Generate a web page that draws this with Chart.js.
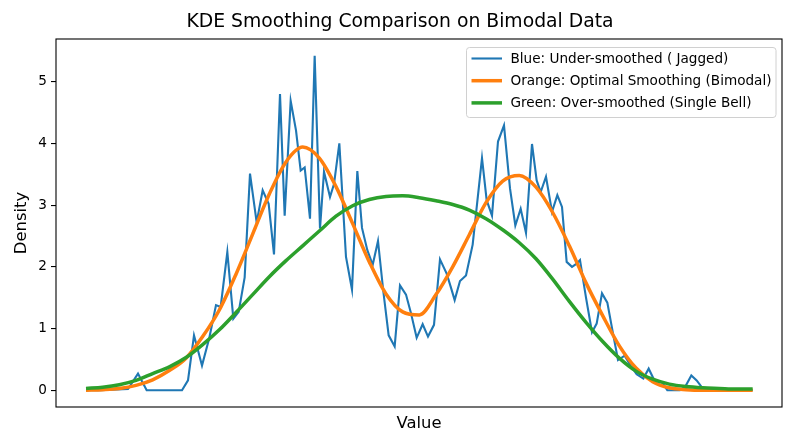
<!DOCTYPE html>
<html>
<head>
<meta charset="utf-8">
<script src="https://cdn.jsdelivr.net/npm/chart.js@4/dist/chart.umd.min.js"></script>
<style>
html,body{margin:0;padding:0;background:#ffffff;}
#wrap{width:800px;height:447px;position:relative;}
</style>
</head>
<body>
<div id="wrap"><canvas id="c" width="800" height="447"></canvas></div>
<script>
// ---- text ----
const chartTitle = 'KDE Smoothing Comparison on Bimodal Data';
const xLabel = 'Value';
const yLabel = 'Density';
const seriesNames = [
  'Blue: Under-smoothed ( Jagged)',
  'Orange: Optimal Smoothing (Bimodal)',
  'Green: Over-smoothed (Single Bell)'
];
const yTicks = [0, 1, 2, 3, 4, 5];

// ---- blue (jagged) series: value positions and densities ----
const blueX = [0, 2.1, 6.3, 7.8, 9.1, 14.4, 15.3, 16.2, 17.4, 18.5, 19.5, 20.2, 21.2, 22.1, 22.9, 23.8,
  24.6, 25.6, 26.5, 27.4, 28.2, 29.1, 29.8, 30.7, 31.5, 32.2, 32.8, 33.6, 34.3, 35.1, 35.7, 36.6,
  37.2, 38.0, 39.0, 39.9, 40.7, 41.4, 42.2, 43.0, 43.8, 44.6, 45.4, 46.3, 47.1, 48.0, 48.7, 49.6,
  50.5, 51.3, 52.2, 53.1, 54.1, 54.7, 55.3, 56.1, 57.0, 58.0, 59.4, 60.1, 60.9, 61.8, 62.7, 63.6,
  64.4, 65.2, 66.0, 66.9, 67.6, 68.2, 69.0, 69.9, 70.7, 71.4, 72.1, 72.9, 73.6, 74.1, 75.0, 75.9,
  76.6, 77.4, 78.2, 79.0, 79.8, 80.8, 81.7, 82.6, 83.6, 84.4, 85.3, 86.4, 87.2, 89.1, 89.9, 90.8,
  91.6, 92.5, 93.6, 100];
const blueY = [0.00, 0.00, 0.02, 0.27, 0.00, 0.00, 0.16, 0.89, 0.40, 0.85, 1.38, 1.35, 2.24, 1.16, 1.27, 1.83,
  3.51, 2.72, 3.24, 3.02, 2.20, 4.80, 2.83, 4.69, 4.21, 3.56, 3.61, 2.78, 5.42, 2.62, 3.54, 3.13,
  3.34, 4.00, 2.16, 1.63, 3.55, 2.63, 2.27, 2.03, 2.42, 1.60, 0.89, 0.71, 1.70, 1.55, 1.27, 0.85,
  1.07, 0.87, 1.06, 2.12, 1.89, 1.68, 1.46, 1.77, 1.86, 2.36, 3.76, 3.08, 2.83, 4.03, 4.29, 3.27,
  2.67, 2.94, 2.55, 3.99, 3.40, 3.21, 3.46, 2.89, 3.16, 2.97, 2.08, 2.00, 2.05, 2.11, 1.50, 0.94,
  1.08, 1.57, 1.42, 0.95, 0.49, 0.56, 0.40, 0.26, 0.19, 0.35, 0.15, 0.13, 0.00, 0.00, 0.06, 0.24,
  0.16, 0.03, 0.00, 0.00];

// ---- smooth series (orange, green) read at regular value positions ----
const smoothX = [0, 2.5, 5, 7.5, 10, 12.5, 15, 17.5, 20, 22.5, 25, 27.5, 30, 32.5, 35, 37.5, 40,
  42.5, 45, 47.5, 50, 52.5, 55, 57.5, 60, 62.5, 65, 67.5, 70, 72.5, 75, 77.5, 80, 82.5, 85,
  87.5, 90, 92.5, 95, 97.5, 100];
const orangeY = [0.00, 0.01, 0.03, 0.08, 0.17, 0.32, 0.52, 0.87, 1.30, 1.88, 2.53, 3.18, 3.70, 3.94,
  3.76, 3.30, 2.70, 2.08, 1.56, 1.27, 1.22, 1.55, 2.00, 2.52, 3.04, 3.39, 3.48, 3.29, 2.88,
  2.34, 1.74, 1.21, 0.72, 0.36, 0.14, 0.04, 0.01, 0.00, 0.00, 0.00, 0.00];
const greenY = [0.03, 0.05, 0.09, 0.16, 0.27, 0.38, 0.53, 0.74, 0.98, 1.26, 1.55, 1.84, 2.10, 2.34,
  2.58, 2.82, 2.99, 3.09, 3.14, 3.15, 3.12, 3.07, 3.01, 2.92, 2.78, 2.60, 2.39, 2.13, 1.80,
  1.44, 1.10, 0.79, 0.52, 0.31, 0.18, 0.10, 0.06, 0.04, 0.03, 0.02, 0.02];

const colors = ['#1f77b4', '#ff7f0e', '#2ca02c'];
const widths = [2.1, 3.5, 3.5];

const toPts = (xs, ys) => xs.map((x, i) => ({x: x, y: ys[i]}));

const FONT = '"DejaVu Sans", "Liberation Sans", sans-serif';

const deco = {
  id: 'deco',
  afterDraw(chart) {
    const ctx = chart.ctx;
    const a = chart.chartArea;
    ctx.save();
    // axes frame
    ctx.strokeStyle = '#000000';
    ctx.lineWidth = 1.1;
    ctx.strokeRect(a.left, a.top, a.right - a.left, a.bottom - a.top);

    // title
    ctx.fillStyle = '#000000';
    ctx.textAlign = 'center';
    ctx.textBaseline = 'middle';
    ctx.font = '18.8px ' + FONT;
    ctx.fillText(chartTitle, 400, 22);

    // axis labels
    ctx.font = '16.4px ' + FONT;
    ctx.fillText(xLabel, (a.left + a.right) / 2, 424);
    ctx.save();
    ctx.translate(22, (a.top + a.bottom) / 2);
    ctx.rotate(-Math.PI / 2);
    ctx.fillText(yLabel, 0, 0);
    ctx.restore();

    // legend
    const bx = 466.5, by = 47.5, bw = 309.5, bh = 70, r = 3;
    ctx.beginPath();
    ctx.moveTo(bx + r, by);
    ctx.lineTo(bx + bw - r, by);
    ctx.quadraticCurveTo(bx + bw, by, bx + bw, by + r);
    ctx.lineTo(bx + bw, by + bh - r);
    ctx.quadraticCurveTo(bx + bw, by + bh, bx + bw - r, by + bh);
    ctx.lineTo(bx + r, by + bh);
    ctx.quadraticCurveTo(bx, by + bh, bx, by + bh - r);
    ctx.lineTo(bx, by + r);
    ctx.quadraticCurveTo(bx, by, bx + r, by);
    ctx.closePath();
    ctx.fillStyle = 'rgba(255,255,255,0.8)';
    ctx.fill();
    ctx.strokeStyle = '#d0d0d0';
    ctx.lineWidth = 1;
    ctx.stroke();

    ctx.font = '13.6px ' + FONT;
    ctx.textAlign = 'left';
    ctx.textBaseline = 'middle';
    chart.data.datasets.forEach((ds, i) => {
      const yy = 58.5 + i * 22.2;
      ctx.strokeStyle = ds.borderColor;
      ctx.lineWidth = ds.borderWidth;
      ctx.lineCap = 'butt';
      ctx.beginPath();
      ctx.moveTo(471.5, yy);
      ctx.lineTo(502, yy);
      ctx.stroke();
      ctx.fillStyle = '#000000';
      ctx.fillText(ds.label, 510.5, yy + 0.5);
    });
    ctx.restore();
  }
};

new Chart(document.getElementById('c'), {
  type: 'line',
  data: {
    datasets: [
      {
        label: seriesNames[0],
        data: toPts(blueX, blueY),
        borderColor: colors[0],
        borderWidth: widths[0],
        pointRadius: 0,
        tension: 0,
        fill: false,
        order: 3
      },
      {
        label: seriesNames[1],
        data: toPts(smoothX, orangeY),
        borderColor: colors[1],
        borderWidth: widths[1],
        pointRadius: 0,
        cubicInterpolationMode: 'monotone',
        fill: false,
        order: 2
      },
      {
        label: seriesNames[2],
        data: toPts(smoothX, greenY),
        borderColor: colors[2],
        borderWidth: widths[2],
        pointRadius: 0,
        cubicInterpolationMode: 'monotone',
        fill: false,
        order: 1
      }
    ]
  },
  options: {
    responsive: false,
    animation: false,
    devicePixelRatio: 1,
    layout: {padding: {top: 39, right: 18, left: 0, bottom: 0}},
    plugins: {
      legend: {display: false},
      title: {display: false},
      tooltip: {enabled: false}
    },
    scales: {
      x: {
        type: 'linear',
        min: -4.5,
        max: 104.4,
        ticks: {display: false},
        grid: {display: false},
        border: {display: false},
        afterFit(s) { s.height = 40; }
      },
      y: {
        type: 'linear',
        min: -0.271,
        max: 5.691,
        afterBuildTicks(s) { s.ticks = yTicks.map(v => ({value: v})); },
        ticks: {
          color: '#000000',
          padding: 4,
          font: {family: FONT, size: 13.6},
          callback: (v) => String(v)
        },
        grid: {
          display: true,
          drawOnChartArea: false,
          drawTicks: true,
          tickLength: 5,
          color: '#000000',
          lineWidth: 1.1
        },
        border: {display: false},
        afterFit(s) { s.width = 56; }
      }
    }
  },
  plugins: [deco]
});
</script>
</body>
</html>
